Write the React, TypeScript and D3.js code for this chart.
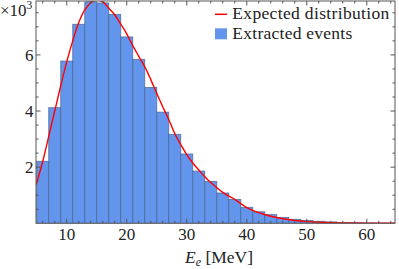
import React from "react";
import * as d3 from "d3";

// Histogram: bin left edges (MeV) and counts (×10^3)
const binStarts = [5, 7, 9, 11, 13, 15, 17, 19, 21, 23, 25, 27, 29, 31, 33, 35, 37, 39, 41, 43, 45, 47, 49, 51, 53, 55, 57, 59, 61, 63];
const binWidth = 2;
const counts = [2.21, 4.12, 5.78, 7.09, 7.89, 7.85, 7.44, 6.64, 5.84, 4.84, 3.96, 3.17, 2.47, 1.86, 1.49, 1.08, 0.85, 0.57, 0.41, 0.31, 0.21, 0.14, 0.10, 0.07, 0.05, 0.03, 0.02, 0.012, 0.008, 0.005];

// Expected distribution curve points
const curveE = [4.9, 5, 6, 7, 8, 9, 10, 11, 12, 13, 14, 15, 16, 17, 18, 19, 20, 21, 22, 23, 24, 25, 26, 27, 28, 29, 30, 31, 32, 33, 34, 35, 36, 37, 38, 39, 40, 42, 44, 46, 48, 50, 52, 54, 56, 60, 64.7];
const curveV = [1.38, 1.45, 2.2, 3.1, 4.0, 4.9, 5.75, 6.5, 7.15, 7.6, 7.86, 7.95, 7.9, 7.66, 7.43, 7.1, 6.75, 6.33, 5.95, 5.58, 5.12, 4.63, 4.15, 3.7, 3.2, 2.8, 2.45, 2.15, 1.9, 1.66, 1.45, 1.27, 1.1, 0.97, 0.85, 0.7, 0.56, 0.38, 0.25, 0.16, 0.1, 0.06, 0.035, 0.02, 0.012, 0.004, 0.001];

const xMajor = [10, 20, 30, 40, 50, 60];
const xMinor = [6, 8, 12, 14, 16, 18, 22, 24, 26, 28, 32, 34, 36, 38, 42, 44, 46, 48, 52, 54, 56, 58, 62, 64];
const yMajor = [2, 4, 6];
const yMinor = [0.5, 1, 1.5, 2.5, 3, 3.5, 4.5, 5, 5.5, 6.5, 7, 7.5];

const W = 399;
const H = 269;
const left = 36, right = 395, top = 1, bottom = 223.3;

export default function App() {
  const x = d3.scaleLinear().domain([4.88, 64.7]).range([left, right]);
  const y = d3.scaleLinear().domain([0, 7.92]).range([bottom, top]);
  const line = d3
    .line<number>()
    .x((_, i) => x(curveE[i]))
    .y((d) => y(d))
    .curve(d3.curveMonotoneX);

  const frame = "#555";
  const font = "'Liberation Serif', 'Times New Roman', serif";
  const majLen = 4.5, minLen = 2.5;

  return (
    <svg width={W} height={H} style={{ position: "absolute", left: 0, top: 0 }} fontFamily={font}>
      <defs>
        <clipPath id="plot">
          <rect x={left} y={top} width={right - left} height={bottom - top} />
        </clipPath>
      </defs>
      <g clipPath="url(#plot)">
        {binStarts.map((b, i) => (
          <rect
            key={b}
            x={x(Math.max(b, 4.88))}
            y={y(counts[i])}
            width={x(b + binWidth) - x(Math.max(b, 4.88))}
            height={bottom - y(counts[i])}
            fill="#6495ED"
            stroke="#46618f"
            strokeOpacity={0.75}
            strokeWidth={0.9}
          />
        ))}
        <path d={line(curveV) || ""} fill="none" stroke="#ff0000" strokeWidth={1.4} />
      </g>
      {/* frame */}
      <rect x={left} y={top} width={right - left} height={bottom - top} fill="none" stroke={frame} strokeWidth={1} />
      {/* x ticks bottom & top */}
      {xMajor.map((t) => (
        <g key={"xM" + t}>
          <line x1={x(t)} x2={x(t)} y1={bottom} y2={bottom - majLen} stroke={frame} />
          <line x1={x(t)} x2={x(t)} y1={top} y2={top + majLen} stroke={frame} />
          <text x={x(t)} y={240} textAnchor="middle" fontSize={17} fill="#222">
            {t}
          </text>
        </g>
      ))}
      {xMinor.map((t) => (
        <g key={"xm" + t}>
          <line x1={x(t)} x2={x(t)} y1={bottom} y2={bottom - minLen} stroke={frame} />
          <line x1={x(t)} x2={x(t)} y1={top} y2={top + minLen} stroke={frame} />
        </g>
      ))}
      {/* y ticks left & right */}
      {yMajor.map((t) => (
        <g key={"yM" + t}>
          <line x1={left} x2={left + majLen} y1={y(t)} y2={y(t)} stroke={frame} />
          <line x1={right} x2={right - majLen} y1={y(t)} y2={y(t)} stroke={frame} />
          <text x={33.5} y={y(t) + 6} textAnchor="end" fontSize={17} fill="#222">
            {t}
          </text>
        </g>
      ))}
      {yMinor.map((t) => (
        <g key={"ym" + t}>
          <line x1={left} x2={left + minLen} y1={y(t)} y2={y(t)} stroke={frame} />
          <line x1={right} x2={right - minLen} y1={y(t)} y2={y(t)} stroke={frame} />
        </g>
      ))}
      {/* multiplier */}
      <text x={0} y={16} fontSize={17} fill="#222">
        ×10<tspan fontSize={11.5} dy={-7}>3</tspan>
      </text>
      {/* x label */}
      <text x={185} y={263} fontSize={17.5} fill="#222">
        <tspan fontStyle="italic">E</tspan>
        <tspan fontStyle="italic" fontSize={12} dy={3}>e</tspan>
        <tspan dy={-3}> [MeV]</tspan>
      </text>
      {/* legend */}
      <line x1={215} x2={227} y1={14.3} y2={14.3} stroke="#ff0000" strokeWidth={1.5} />
      <text x={232.3} y={18.8} fontSize={17.5} fill="#222" textLength={157} lengthAdjust="spacing">
        Expected distribution
      </text>
      <rect x={215} y={28.3} width={12} height={11} fill="#6495ED" />
      <text x={232.3} y={38.8} fontSize={17.5} fill="#222" textLength={120} lengthAdjust="spacing">
        Extracted events
      </text>
    </svg>
  );
}
